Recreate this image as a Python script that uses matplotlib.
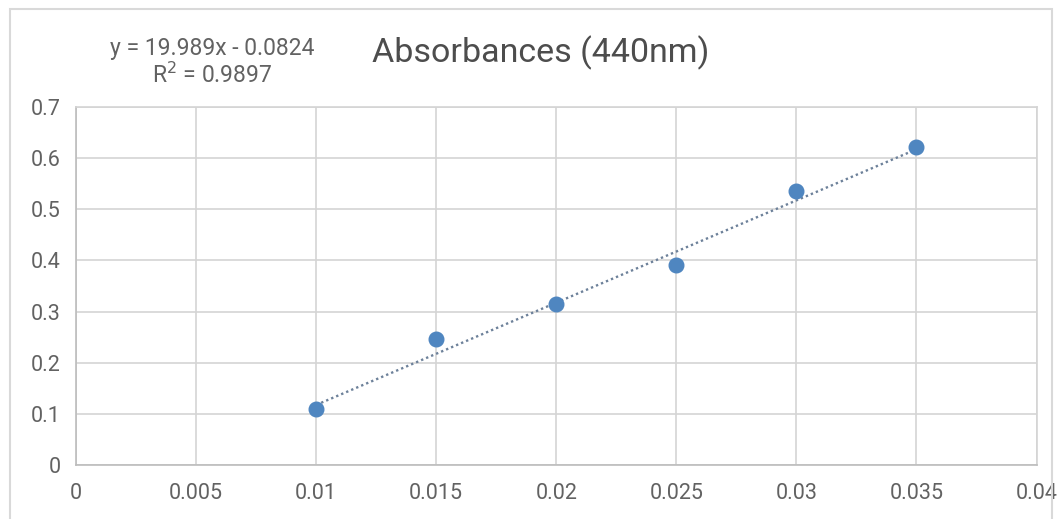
import numpy as np
import matplotlib.pyplot as plt
from matplotlib.patches import Rectangle

plt.rcParams['font.family'] = ['Roboto', 'DejaVu Sans']

# concentration vs absorbance at 440 nm
concentracao = [0.01, 0.015, 0.02, 0.025, 0.03, 0.035]
absorbancia = [0.109, 0.247, 0.314, 0.391, 0.535, 0.622]

# linear trendline as reported
inclinacao = 19.989
intercepto = -0.0824
r2 = 0.9897

x_ticks = [0, 0.005, 0.01, 0.015, 0.02, 0.025, 0.03, 0.035, 0.04]
x_labels = ['0', '0.005', '0.01', '0.015', '0.02', '0.025', '0.03', '0.035', '0.04']
y_ticks = [0, 0.1, 0.2, 0.3, 0.4, 0.5, 0.6, 0.7]
y_labels = ['0', '0.1', '0.2', '0.3', '0.4', '0.5', '0.6', '0.7']

cor_texto = '#626262'
cor_grade = '#d4d4d4'

fig = plt.figure(figsize=(10.59, 5.19), dpi=100)
fig.patches.append(Rectangle((0.0094, -0.05), 0.984, 1.033, transform=fig.transFigure,
                             fill=False, edgecolor='#d9d9d9', linewidth=1.5))
ax = fig.add_axes([0.0718, 0.104, 0.907, 0.69])

x_lin = np.array([concentracao[0], concentracao[-1]])
ax.plot(x_lin, inclinacao * x_lin + intercepto, linestyle=(0, (1, 1.3)),
        color='#6d819a', linewidth=1.7, zorder=2)
ax.plot(concentracao, absorbancia, 'o', color='#4f86c0', markersize=10.5, zorder=3)

ax.set_xlim(0, 0.04)
ax.set_ylim(0, 0.7)
ax.set_xticks(x_ticks)
ax.set_xticklabels(x_labels)
ax.set_yticks(y_ticks)
ax.set_yticklabels(y_labels)
ax.grid(True, color=cor_grade, linewidth=1.2)
ax.set_axisbelow(True)
for s in ax.spines.values():
    s.set_color(cor_grade)
    s.set_linewidth(1.2)
ax.spines['bottom'].set_color('#bcbcbc')
ax.spines['left'].set_color('#bcbcbc')
ax.tick_params(length=0, colors=cor_texto, labelsize=15.5)
ax.tick_params(axis='x', pad=13)
ax.tick_params(axis='y', pad=11)

fig.text(0.511, 0.879, 'Absorbances (440nm)', ha='center', va='baseline',
         fontsize=24.5, color='#4d4d4d')
fig.text(0.200, 0.894, f'y = {inclinacao}x - {abs(intercepto)}', ha='center', va='baseline',
         fontsize=16.5, color=cor_texto)
fig.text(0.200, 0.840, f'R$^2$ = {r2}', ha='center', va='baseline',
         fontsize=16.5, color=cor_texto)

fig.savefig('out.png', dpi=100, facecolor='white')
